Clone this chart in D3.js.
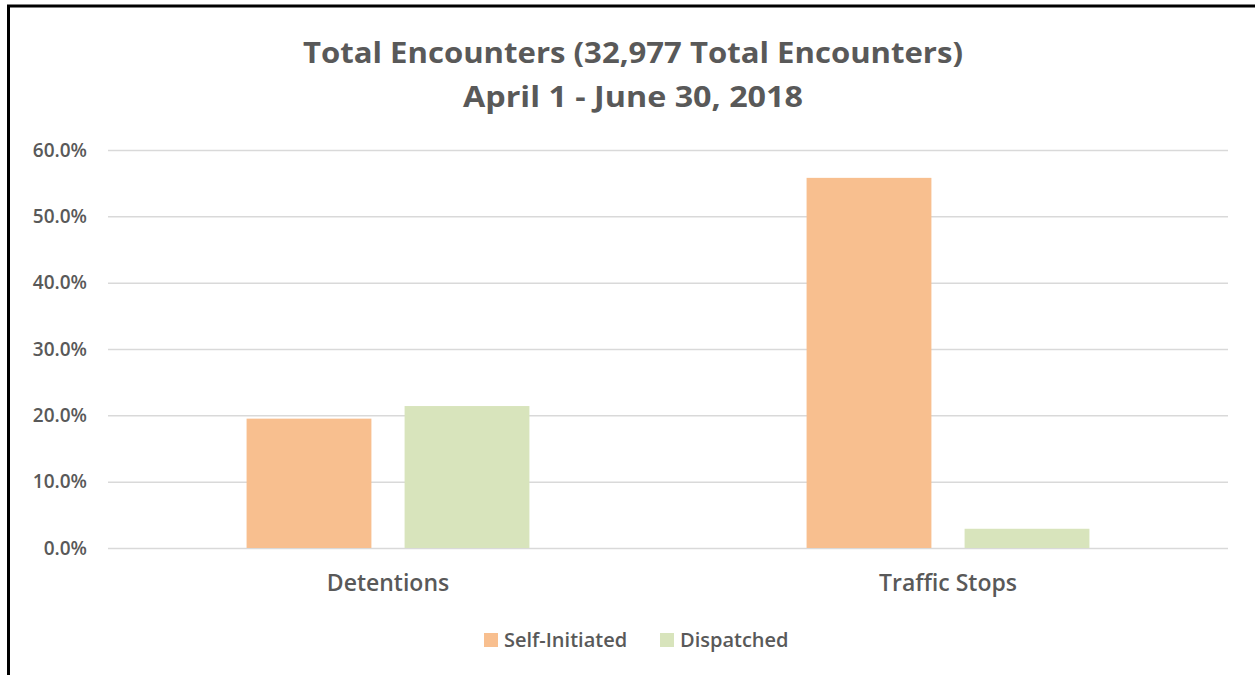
<!DOCTYPE html>
<html>
<head>
<meta charset="utf-8">
<script src="https://cdn.jsdelivr.net/npm/d3@7"></script>
<style>
  html, body { margin: 0; padding: 0; background: #fff; }
  svg { display: block; font-family: "Open Sans", sans-serif; }
</style>
</head>
<body>
<svg id="chart" width="1255" height="675"></svg>
<script>
// Chart data
const categories = ["Detentions", "Traffic Stops"];
const seriesNames = ["Self-Initiated", "Dispatched"];
const selfInitiated = [0.195, 0.558];
const dispatched = [0.214, 0.029];
const yTicks = [0, 0.1, 0.2, 0.3, 0.4, 0.5, 0.6];
const titleLines = ["Total Encounters (32,977 Total Encounters)", "April 1 - June 30, 2018"];

const colors = { "Self-Initiated": "#f8bf8f", "Dispatched": "#d8e4bc" };
const textColor = "#595959";

const plot = { left: 108, right: 1228, top: 150, bottom: 548 };

const svg = d3.select("#chart");

// outer frame (only left/top edges fall inside the picture)
svg.append("rect")
    .attr("x", 8.5)
    .attr("y", 6)
    .attr("width", 1400)
    .attr("height", 800)
    .attr("fill", "none")
    .attr("stroke", "#000")
    .attr("stroke-width", 3);

// Title
svg.selectAll(".title")
    .data(titleLines)
    .enter()
    .append("text")
    .attr("class", "title")
    .attr("x", 633)
    .attr("y", (d, i) => 63 + i * 44)
    .attr("text-anchor", "middle")
    .attr("textLength", (d, i) => i === 0 ? 660 : 340)
    .attr("lengthAdjust", "spacingAndGlyphs")
    .style("font-size", "28px")
    .style("font-weight", "700")
    .style("fill", textColor)
    .text(d => d);

// Scales
const x0 = d3.scaleBand()
    .domain(categories)
    .range([plot.left, plot.right])
    .padding(0);

const x1 = d3.scaleBand()
    .domain(seriesNames)
    .range([0, x0.bandwidth()])
    .paddingInner(0.21)
    .paddingOuter(0.877);

const y = d3.scaleLinear()
    .domain([0, 0.6])
    .range([plot.bottom, plot.top]);

// Gridlines + y axis
const yAxis = d3.axisLeft(y)
    .tickValues(yTicks)
    .tickSize(-(plot.right - plot.left))
    .tickPadding(21)
    .tickFormat(d3.format(".1%"));

const yAxisG = svg.append("g")
    .attr("class", "y-axis")
    .attr("transform", `translate(${plot.left},0)`)
    .call(yAxis);

yAxisG.select(".domain").remove();
yAxisG.selectAll(".tick line")
    .attr("stroke", "#d9d9d9")
    .attr("stroke-width", 1.5);
yAxisG.selectAll(".tick text")
    .attr("fill", textColor)
    .style("font-size", "19px")
    .style("font-weight", "600")
    .style("font-family", "'Open Sans', sans-serif");

// Bars
const rows = categories.map((c, i) => ({
    category: c,
    values: [
        { key: "Self-Initiated", value: selfInitiated[i] },
        { key: "Dispatched", value: dispatched[i] }
    ]
}));

const groups = svg.selectAll(".group")
    .data(rows)
    .enter()
    .append("g")
    .attr("class", "group")
    .attr("transform", d => `translate(${x0(d.category)},0)`);

groups.selectAll("rect")
    .data(d => d.values)
    .enter()
    .append("rect")
    .attr("x", d => x1(d.key))
    .attr("y", d => y(d.value))
    .attr("width", x1.bandwidth())
    .attr("height", d => y(0) - y(d.value))
    .attr("fill", d => colors[d.key]);

// Category axis labels
const xAxis = d3.axisBottom(x0).tickSize(0).tickPadding(27);
const xAxisG = svg.append("g")
    .attr("class", "x-axis")
    .attr("transform", `translate(0,${plot.bottom})`)
    .call(xAxis);

xAxisG.select(".domain").remove();
xAxisG.selectAll(".tick text")
    .attr("fill", textColor)
    .style("font-size", "23px")
    .style("font-weight", "600")
    .style("font-family", "'Open Sans', sans-serif");

// Legend
const legendX = [484, 660];
const legend = svg.append("g").attr("class", "legend");

seriesNames.forEach((name, i) => {
    const row = legend.append("g")
        .attr("transform", `translate(${legendX[i]}, 633)`);

    row.append("rect")
        .attr("width", 14)
        .attr("height", 14)
        .attr("fill", colors[name]);

    row.append("text")
        .attr("x", 20)
        .attr("y", 14)
        .style("font-size", "20px")
        .style("font-weight", "600")
        .style("fill", textColor)
        .text(name);
});
</script>
</body>
</html>
